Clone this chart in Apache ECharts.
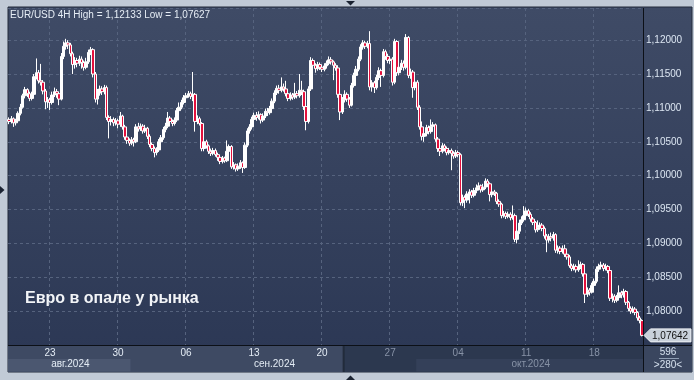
<!DOCTYPE html>
<html><head><meta charset="utf-8">
<script src="https://cdn.jsdelivr.net/npm/echarts@6/dist/echarts.min.js"></script>
<style>html,body{margin:0;padding:0;background:#c1cad6;}#c{width:694px;height:380px;}</style>
</head><body><div id="c"></div>
<script>
// ---- data ----
const tradingDays = [
 '2024-08-20','2024-08-21','2024-08-22','2024-08-23',
 '2024-08-26','2024-08-27','2024-08-28','2024-08-29','2024-08-30',
 '2024-09-02','2024-09-03','2024-09-04','2024-09-05','2024-09-06',
 '2024-09-09','2024-09-10','2024-09-11','2024-09-12','2024-09-13',
 '2024-09-16','2024-09-17','2024-09-18','2024-09-19','2024-09-20',
 '2024-09-23','2024-09-24','2024-09-25','2024-09-26','2024-09-27',
 '2024-09-30','2024-10-01','2024-10-02','2024-10-03','2024-10-04',
 '2024-10-07','2024-10-08','2024-10-09','2024-10-10','2024-10-11',
 '2024-10-14','2024-10-15','2024-10-16','2024-10-17','2024-10-18',
 '2024-10-21','2024-10-22','2024-10-23'];
const hours = ['00:00','04:00','08:00','12:00','16:00','20:00'];

const open = [
1.1083,1.1080,1.1084,1.1078,1.1081,1.1092,1.1101,1.1118,1.1127,1.1121,
1.1114,1.1120,1.1146,1.1152,1.1140,1.1138,1.1125,1.1109,1.1112,1.1108,
1.1119,1.1124,1.1121,1.1113,1.1176,1.1191,1.1196,1.1193,1.1180,1.1164,
1.1170,1.1166,1.1172,1.1167,1.1160,1.1168,1.1182,1.1186,1.1150,1.1113,
1.1122,1.1128,1.1124,1.1130,1.1086,1.1080,1.1083,1.1078,1.1081,1.1076,
1.1088,1.1072,1.1057,1.1052,1.1048,1.1053,1.1050,1.1072,1.1069,1.1073,
1.1066,1.1070,1.1058,1.1046,1.1040,1.1034,1.1038,1.1050,1.1056,1.1068,
1.1073,1.1085,1.1080,1.1077,1.1082,1.1096,1.1101,1.1108,1.1115,1.1118,
1.1121,1.1117,1.1120,1.1080,1.1084,1.1077,1.1040,1.1050,1.1044,1.1036,
1.1033,1.1037,1.1031,1.1027,1.1021,1.1026,1.1022,1.1036,1.1043,1.1013,
1.1016,1.1010,1.1014,1.1019,1.1012,1.1045,1.1066,1.1072,1.1083,1.1089,
1.1086,1.1090,1.1082,1.1088,1.1095,1.1093,1.1099,1.1110,1.1122,1.1129,
1.1126,1.1131,1.1128,1.1121,1.1114,1.1119,1.1116,1.1121,1.1118,1.1126,
1.1124,1.1102,1.1080,1.1128,1.1170,1.1163,1.1158,1.1164,1.1160,1.1157,
1.1162,1.1166,1.1171,1.1168,1.1163,1.1159,1.1120,1.1094,1.1112,1.1120,
1.1113,1.1104,1.1133,1.1148,1.1157,1.1172,1.1190,1.1196,1.1191,1.1195,
1.1131,1.1137,1.1130,1.1145,1.1155,1.1148,1.1183,1.1176,1.1170,1.1172,
1.1138,1.1198,1.1152,1.1160,1.1166,1.1160,1.1204,1.1148,1.1153,1.1130,
1.1138,1.1101,1.1072,1.1058,1.1062,1.1071,1.1065,1.1073,1.1075,1.1054,
1.1040,1.1036,1.1044,1.1040,1.1034,1.1037,1.1033,1.1029,1.1034,1.1031,
1.0960,1.0968,1.0964,1.0973,1.0976,1.0971,1.0978,1.0982,1.0985,1.0979,
1.0983,1.0992,1.0988,1.0972,1.0976,1.0974,1.0962,1.0958,1.0941,1.0944,
1.0940,1.0943,1.0938,1.0941,1.0906,1.0918,1.0930,1.0935,1.0941,1.0948,
1.0943,1.0936,1.0931,1.0920,1.0924,1.0927,1.0922,1.0911,1.0905,1.0910,
1.0908,1.0913,1.0890,1.0893,1.0888,1.0892,1.0884,1.0880,1.0867,1.0863,
1.0866,1.0861,1.0865,1.0869,1.0855,1.0825,1.0831,1.0828,1.0838,1.0844,
1.0862,1.0866,1.0868,1.0863,1.0866,1.0860,1.0819,1.0822,1.0816,1.0820,
1.0827,1.0824,1.0829,1.0813,1.0804,1.0800,1.0803,1.0798,1.0790,1.0786];

const close = [
1.1080,1.1084,1.1078,1.1081,1.1092,1.1101,1.1118,1.1127,1.1121,1.1114,
1.1120,1.1146,1.1152,1.1140,1.1138,1.1125,1.1109,1.1112,1.1108,1.1119,
1.1124,1.1121,1.1113,1.1176,1.1191,1.1196,1.1193,1.1180,1.1164,1.1170,
1.1166,1.1172,1.1167,1.1160,1.1168,1.1182,1.1186,1.1150,1.1113,1.1122,
1.1128,1.1124,1.1130,1.1086,1.1080,1.1083,1.1078,1.1081,1.1076,1.1088,
1.1072,1.1057,1.1052,1.1048,1.1053,1.1050,1.1072,1.1069,1.1073,1.1066,
1.1070,1.1058,1.1046,1.1040,1.1034,1.1038,1.1050,1.1056,1.1068,1.1073,
1.1085,1.1080,1.1077,1.1082,1.1096,1.1101,1.1108,1.1115,1.1118,1.1121,
1.1117,1.1120,1.1080,1.1084,1.1077,1.1040,1.1050,1.1044,1.1036,1.1033,
1.1037,1.1031,1.1027,1.1021,1.1026,1.1022,1.1036,1.1043,1.1013,1.1016,
1.1010,1.1014,1.1019,1.1012,1.1045,1.1066,1.1072,1.1083,1.1089,1.1086,
1.1090,1.1082,1.1088,1.1095,1.1093,1.1099,1.1110,1.1122,1.1129,1.1126,
1.1131,1.1128,1.1121,1.1114,1.1119,1.1116,1.1121,1.1118,1.1126,1.1124,
1.1102,1.1080,1.1128,1.1170,1.1163,1.1158,1.1164,1.1160,1.1157,1.1162,
1.1166,1.1171,1.1168,1.1163,1.1159,1.1120,1.1094,1.1112,1.1120,1.1113,
1.1104,1.1133,1.1148,1.1157,1.1172,1.1190,1.1196,1.1191,1.1195,1.1131,
1.1137,1.1130,1.1145,1.1155,1.1148,1.1183,1.1176,1.1170,1.1172,1.1138,
1.1198,1.1152,1.1160,1.1166,1.1160,1.1204,1.1148,1.1153,1.1130,1.1138,
1.1101,1.1072,1.1058,1.1062,1.1071,1.1065,1.1073,1.1075,1.1054,1.1040,
1.1036,1.1044,1.1040,1.1034,1.1037,1.1033,1.1029,1.1034,1.1031,1.0960,
1.0968,1.0964,1.0973,1.0976,1.0971,1.0978,1.0982,1.0985,1.0979,1.0983,
1.0992,1.0988,1.0972,1.0976,1.0974,1.0962,1.0958,1.0941,1.0944,1.0940,
1.0943,1.0938,1.0941,1.0906,1.0918,1.0930,1.0935,1.0941,1.0948,1.0943,
1.0936,1.0931,1.0920,1.0924,1.0927,1.0922,1.0911,1.0905,1.0910,1.0908,
1.0913,1.0890,1.0893,1.0888,1.0892,1.0884,1.0880,1.0867,1.0863,1.0866,
1.0861,1.0865,1.0869,1.0855,1.0825,1.0831,1.0828,1.0838,1.0844,1.0862,
1.0866,1.0868,1.0863,1.0866,1.0860,1.0819,1.0822,1.0816,1.0820,1.0827,
1.0824,1.0829,1.0813,1.0804,1.0800,1.0803,1.0798,1.0790,1.0786,1.07642];

const high = [
1.1086,1.1088,1.1086,1.1084,1.1095,1.1106,1.1121,1.1131,1.1129,1.1124,
1.1124,1.1150,1.1173,1.1156,1.1165,1.1141,1.1128,1.1116,1.1115,1.1124,
1.1130,1.1128,1.1123,1.1181,1.1198,1.1202,1.1200,1.1196,1.1183,1.1175,
1.1174,1.1177,1.1176,1.1170,1.1174,1.1186,1.1190,1.1188,1.1153,1.1128,
1.1133,1.1132,1.1134,1.1133,1.1089,1.1088,1.1086,1.1085,1.1084,1.1094,
1.1090,1.1075,1.1060,1.1055,1.1057,1.1056,1.1076,1.1078,1.1077,1.1076,
1.1075,1.1072,1.1061,1.1049,1.1043,1.1042,1.1054,1.1060,1.1072,1.1078,
1.1094,1.1088,1.1083,1.1086,1.1100,1.1108,1.1112,1.1119,1.1122,1.1125,
1.1124,1.1153,1.1122,1.1089,1.1087,1.1079,1.1056,1.1053,1.1046,1.1040,
1.1041,1.1040,1.1034,1.1030,1.1029,1.1028,1.1052,1.1046,1.1045,1.1020,
1.1018,1.1018,1.1023,1.1021,1.1049,1.1070,1.1076,1.1087,1.1093,1.1094,
1.1095,1.1092,1.1092,1.1099,1.1100,1.1103,1.1114,1.1126,1.1133,1.1134,
1.1145,1.1136,1.1140,1.1124,1.1123,1.1122,1.1137,1.1125,1.1150,1.1140,
1.1127,1.1105,1.1132,1.1175,1.1173,1.1166,1.1168,1.1167,1.1163,1.1166,
1.1170,1.1176,1.1175,1.1170,1.1166,1.1163,1.1123,1.1116,1.1126,1.1123,
1.1116,1.1137,1.1152,1.1162,1.1176,1.1194,1.1200,1.1199,1.1199,1.12133,
1.1141,1.1140,1.1149,1.1160,1.1158,1.1187,1.1186,1.1180,1.1176,1.1175,
1.1202,1.1200,1.1165,1.1171,1.1170,1.1209,1.1206,1.1158,1.1156,1.1143,
1.1141,1.1104,1.1080,1.1066,1.1075,1.1074,1.1083,1.1079,1.1077,1.1057,
1.1043,1.1048,1.1047,1.1043,1.1041,1.1040,1.1036,1.1038,1.1037,1.1033,
1.0972,1.0971,1.0977,1.0980,1.0979,1.0982,1.0987,1.0990,1.0987,1.0988,
1.0996,1.0995,1.0990,1.0980,1.0979,1.0976,1.0965,1.0960,1.0948,1.0947,
1.0947,1.0946,1.0956,1.0944,1.0936,1.0935,1.0940,1.0955,1.0953,1.0951,
1.0946,1.0939,1.0933,1.0934,1.0931,1.0930,1.0925,1.0914,1.0914,1.0916,
1.0917,1.0915,1.0897,1.0896,1.0897,1.0898,1.0887,1.0883,1.0870,1.0870,
1.0869,1.0875,1.0873,1.0871,1.0858,1.0835,1.0834,1.0842,1.0848,1.0866,
1.0870,1.0873,1.0871,1.0870,1.0868,1.0862,1.0826,1.0825,1.0824,1.0838,
1.0830,1.0833,1.0831,1.0815,1.0807,1.0807,1.0806,1.0800,1.0793,1.0788];

const low = [
1.1076,1.1077,1.1072,1.1074,1.1079,1.1089,1.1099,1.1114,1.1116,1.1110,
1.1111,1.1118,1.1142,1.1136,1.1133,1.1120,1.1098,1.1100,1.1097,1.1105,
1.1116,1.1115,1.1104,1.1111,1.1172,1.1186,1.1187,1.1176,1.1150,1.1158,
1.1160,1.1162,1.1158,1.1155,1.1157,1.1165,1.1178,1.1145,1.1108,1.1105,
1.1118,1.1119,1.1120,1.1082,1.1055,1.1074,1.1073,1.1074,1.1070,1.1072,
1.1068,1.1053,1.1047,1.1044,1.1045,1.1043,1.1048,1.1065,1.1066,1.1062,
1.1063,1.1054,1.1042,1.1036,1.1027,1.1030,1.1035,1.1047,1.1053,1.1064,
1.1070,1.1076,1.1073,1.1074,1.1079,1.1093,1.1098,1.1105,1.1112,1.1115,
1.1113,1.1110,1.1065,1.1076,1.1074,1.1036,1.1036,1.1040,1.1032,1.1029,
1.1030,1.1028,1.1022,1.1017,1.1018,1.1019,1.1020,1.1033,1.1010,1.1009,
1.1006,1.1007,1.1010,1.1004,1.1010,1.1042,1.1062,1.1068,1.1079,1.1081,
1.1083,1.1077,1.1079,1.1085,1.1088,1.1090,1.1096,1.1107,1.1119,1.1121,
1.1123,1.1124,1.1117,1.1110,1.1111,1.1112,1.1113,1.1114,1.1115,1.1119,
1.1097,1.1067,1.1077,1.1125,1.1158,1.1152,1.1155,1.1156,1.1153,1.1154,
1.1158,1.1163,1.1164,1.1141,1.1155,1.1115,1.1082,1.1091,1.1108,1.1109,
1.1100,1.1102,1.1130,1.1145,1.1154,1.1169,1.1186,1.1187,1.1188,1.1126,
1.1124,1.1122,1.1127,1.1141,1.1131,1.1145,1.1171,1.1166,1.1165,1.1133,
1.1135,1.1147,1.1148,1.1156,1.1155,1.1157,1.1144,1.1143,1.1115,1.1126,
1.1097,1.1068,1.1052,1.1050,1.1058,1.1061,1.1062,1.1069,1.1050,1.1035,
1.1029,1.1033,1.1036,1.1030,1.1031,1.1008,1.1025,1.1026,1.1027,1.0956,
1.0955,1.0952,1.0960,1.0959,1.0967,1.0968,1.0974,1.0978,1.0975,1.0976,
1.0980,1.0983,1.0962,1.0968,1.0970,1.0958,1.0954,1.0937,1.0938,1.0936,
1.0937,1.0934,1.0935,1.0902,1.0900,1.0914,1.0927,1.0932,1.0938,1.0939,
1.0932,1.0927,1.0916,1.0917,1.0920,1.0918,1.0907,1.0887,1.0901,1.0903,
1.0904,1.0886,1.0885,1.0884,1.0885,1.0880,1.0876,1.0864,1.0859,1.0860,
1.0857,1.0858,1.0862,1.0851,1.0812,1.0821,1.0823,1.0826,1.0834,1.0841,
1.0858,1.0862,1.0859,1.0860,1.0856,1.0815,1.0813,1.0812,1.0813,1.0817,
1.0819,1.0820,1.0809,1.0800,1.0796,1.0797,1.0794,1.0786,1.0782,1.07627];

const dayTickDates = ['2024-08-23','2024-08-30','2024-09-06','2024-09-13','2024-09-20',
                      '2024-09-27','2024-10-04','2024-10-11','2024-10-18'];
const monthKeys = ['2024-08','2024-09','2024-10'];
const monthNames = ['авг.2024','сен.2024','окт.2024'];
const shadeFrom = '2024-09-23 16:00';
const titleText = 'EUR/USD 4H High = 1,12133 Low = 1,07627';
const captionText = 'Евро в опале у рынка';
const infoTop = '596';
const infoBottom = '>280<';

// ---- derived ----
const categories = tradingDays.flatMap(d => hours.map(h => d + ' ' + h)).slice(0, close.length);
const ohlc = close.map((c, i) => [open[i], c, low[i], high[i]]);
const dayTickIdx = dayTickDates.map(d => categories.indexOf(d + ' 00:00'));
const monthRanges = monthKeys.map(m => {
  const idx = categories.map((c, i) => c.startsWith(m) ? i : -1).filter(i => i >= 0);
  return [idx[0], idx[idx.length - 1]];
});
const monthCenterIdx = monthRanges.map(r => Math.round((r[0] + r[1]) / 2));
const shadeIdx = categories.indexOf(shadeFrom);
const fmt = v => v.toFixed(5).replace('.', ',');
const FONT = '"Liberation Sans", Arial, sans-serif';
const gridColor = '#56637e';
const lightText = '#e4ecf5';
const dimText = '#8792a6';

const chart = echarts.init(document.getElementById('c'), null, {width: 694, height: 380});
chart.setOption({
  animation: false,
  backgroundColor: '#c1cad6',
  grid: {left: 8, right: 51, top: 8, bottom: 35},
  xAxis: [{
    type: 'category', data: categories, boundaryGap: true,
    axisLine: {show: false}, axisTick: {show: false},
    axisLabel: {
      interval: i => dayTickIdx.includes(i),
      formatter: v => v.slice(8, 10),
      color: v => categories.indexOf(v) >= shadeIdx ? dimText : lightText,
      fontFamily: FONT, fontSize: 10, margin: 3
    },
    splitLine: {show: true, interval: i => dayTickIdx.includes(i),
      lineStyle: {color: gridColor, type: [3, 3], width: 1}}
  }, {
    type: 'category', data: categories, boundaryGap: true, position: 'bottom', offset: 11,
    axisLine: {show: false}, axisTick: {show: false}, splitLine: {show: false},
    axisLabel: {
      interval: i => monthCenterIdx.includes(i),
      formatter: v => monthNames[monthKeys.indexOf(v.slice(0, 7))],
      color: v => categories.indexOf(v) >= shadeIdx ? dimText : lightText,
      fontFamily: FONT, fontSize: 10, margin: 3
    }
  }],
  yAxis: {
    type: 'value', position: 'right', min: 1.075, max: 1.12475, interval: 0.005,
    axisLine: {show: false}, axisTick: {show: false},
    axisLabel: {formatter: fmt, color: '#dce6f2', fontFamily: FONT, fontSize: 10, margin: 3,
      showMinLabel: false, showMaxLabel: false},
    splitLine: {lineStyle: {color: gridColor, type: [3, 3], width: 1}}
  },
  series: [{
    type: 'candlestick', data: ohlc, barWidth: 3,
    itemStyle: {color: '#ffffff', color0: '#e3103c', borderColor: '#ffffff', borderColor0: '#ffffff', borderWidth: 1}
  }]
});

// ---- decorations positioned from the axes ----
const cx = i => chart.convertToPixel({xAxisIndex: 0}, i);
const bw = cx(1) - cx(0);
const leftEdge = i => cx(i) - bw / 2;
const plotR = 643, bandTop = 346, bandMid = 359, bandBot = 372;
const shadeX = leftEdge(shadeIdx);
const g = [];
// panel background
g.push({type: 'rect', z: -20, shape: {x: 8, y: 7, width: 684, height: 365},
  style: {fill: {type: 'linear', x: 0, y: 0, x2: 0, y2: 1,
    colorStops: [{offset: 0, color: '#3f4b66'}, {offset: 1, color: '#2b3754'}]},
    stroke: '#222b3a', lineWidth: 1}});
// bottom band
g.push({type: 'rect', z: -15, shape: {x: 8, y: bandTop, width: shadeX - 8, height: bandBot - bandTop}, style: {fill: '#3e4a63'}});
g.push({type: 'rect', z: -15, shape: {x: shadeX, y: bandTop, width: plotR - shadeX, height: bandBot - bandTop}, style: {fill: '#2c384f'}});
monthRanges.forEach((r, m) => {
  if (m % 2 !== 0) return;
  const x0 = Math.max(leftEdge(r[0]), 8), x1 = Math.min(leftEdge(r[1]) + bw, plotR);
  if (x0 < shadeX) g.push({type: 'rect', z: -14, shape: {x: x0, y: bandMid, width: Math.min(x1, shadeX) - x0, height: bandBot - bandMid - 0.5}, style: {fill: '#4b5770'}});
  if (x1 > shadeX) g.push({type: 'rect', z: -14, shape: {x: Math.max(x0, shadeX), y: bandMid, width: x1 - Math.max(x0, shadeX), height: bandBot - bandMid - 0.5}, style: {fill: '#344059'}});
});
g.push({type: 'rect', z: -13, shape: {x: shadeX - 1, y: bandTop, width: 2, height: bandBot - bandTop}, style: {fill: '#222b3b'}});
// info box
g.push({type: 'rect', z: -15, shape: {x: 644, y: bandTop, width: 48, height: bandBot - bandTop}, style: {fill: '#3a465f'}});
g.push({type: 'text', z: 10, style: {text: infoTop, x: 668, y: 352.5, fill: '#d6e1ee', font: '10px ' + FONT, align: 'center', verticalAlign: 'middle'}});
g.push({type: 'line', z: 10, shape: {x1: 659, y1: 358.5, x2: 679, y2: 358.5}, style: {stroke: '#8e9db2', lineWidth: 1}});
g.push({type: 'text', z: 10, style: {text: infoBottom, x: 668, y: 365.5, fill: '#d6e1ee', font: '10px ' + FONT, align: 'center', verticalAlign: 'middle'}});
// separators
g.push({type: 'line', z: 8, shape: {x1: 8, y1: 345.5, x2: 692, y2: 345.5}, style: {stroke: '#0c1017', lineWidth: 1}});
g.push({type: 'line', z: 8, shape: {x1: 643.5, y1: 8, x2: 643.5, y2: 372}, style: {stroke: '#0c1017', lineWidth: 1}});
// price tag
const ly = chart.convertToPixel({yAxisIndex: 0}, close[close.length - 1]);
g.push({type: 'polygon', z: 9, shape: {points: [[644, ly], [650.5, ly - 6.5], [691, ly - 6.5], [691, ly + 6.5], [650.5, ly + 6.5]]},
  style: {fill: '#c9d1db', stroke: '#eef1f5', lineWidth: 1}});
g.push({type: 'text', z: 10, style: {text: fmt(close[close.length - 1]), x: 652, y: ly + 0.5, fill: '#111', font: '10px ' + FONT, verticalAlign: 'middle'}});
// texts
g.push({type: 'text', z: 10, style: {text: titleText, x: 10, y: 15, fill: '#e6edf5', font: '10px ' + FONT, verticalAlign: 'middle'}});
g.push({type: 'text', z: 10, style: {text: captionText, x: 25, y: 298.5, fill: '#f2f4f7', font: 'bold 16px ' + FONT, verticalAlign: 'middle'}});
// frame markers
g.push({type: 'polygon', z: 10, shape: {points: [[346, 1], [355, 1], [350.5, 5.5]]}, style: {fill: '#1b2332'}});
g.push({type: 'polygon', z: 10, shape: {points: [[346, 380], [355, 380], [350.5, 375.5]]}, style: {fill: '#1b2332'}});
g.push({type: 'polygon', z: 10, shape: {points: [[0, 186], [0, 194], [4.5, 190]]}, style: {fill: '#1b2332'}});
chart.setOption({graphic: g});
</script></body></html>
